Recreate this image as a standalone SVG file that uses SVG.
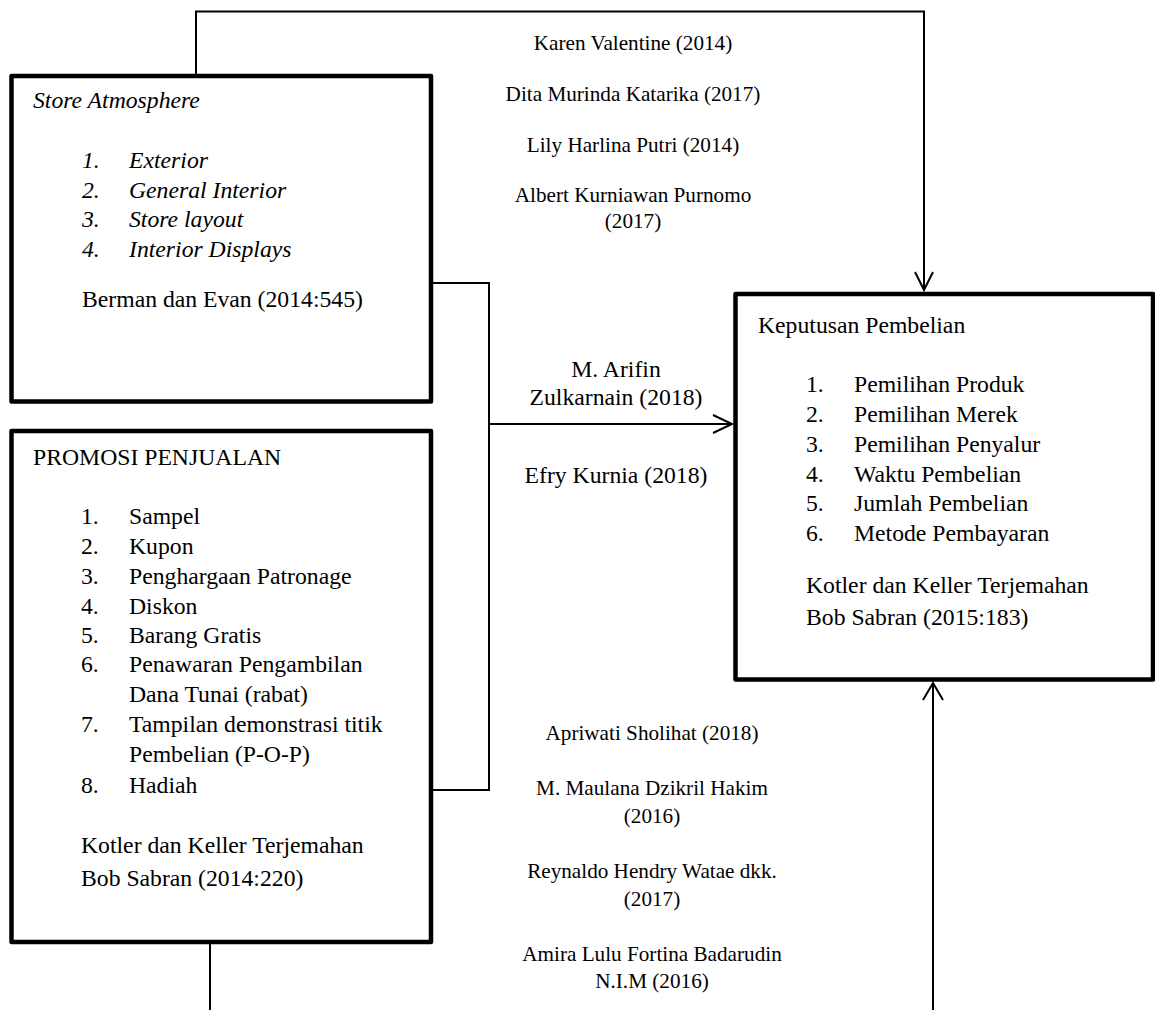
<svg xmlns="http://www.w3.org/2000/svg" width="1155" height="1010" viewBox="0 0 1155 1010">
<style>
text{font-family:"Liberation Serif","Times New Roman",serif;fill:#000}
.m{font-size:23.7px}
.a{font-size:21.2px;text-anchor:middle}
.i{font-style:italic}
.box{fill:#fff;stroke:#000;stroke-width:4.5;stroke-linejoin:round}
.c{fill:none;stroke:#000;stroke-width:2}
</style>
<rect width="1155" height="1010" fill="#fff"/>
<g id="connectors">
<polyline class="c" points="196,74 196,11.5 924,11.5 924,290" stroke-width="2.5"/>
<polyline class="c" points="915,272 924,290 933,272" stroke-width="2.5"/>
<polyline class="c" points="431,283 489,283 489,790 431,790"/>
<line class="c" x1="489" y1="424" x2="732" y2="424"/>
<polyline class="c" points="713,415 732,424 713,433"/>
<line class="c" x1="210" y1="944" x2="210" y2="1010"/>
<line class="c" x1="933" y1="1010" x2="933" y2="683" stroke-width="2.5"/>
<polyline class="c" points="923,700 933,683 943,700" stroke-width="2.5"/>
</g>
<g id="store-atmosphere">
<rect class="box" x="11.5" y="76" width="419.5" height="325.5"/>
<text class="m i" x="33" y="108">Store Atmosphere</text>
<text class="m i" x="82" y="168">1.</text><text class="m i" x="129" y="168">Exterior</text>
<text class="m i" x="82" y="198">2.</text><text class="m i" x="129" y="198">General Interior</text>
<text class="m i" x="82" y="227">3.</text><text class="m i" x="129" y="227">Store layout</text>
<text class="m i" x="82" y="257">4.</text><text class="m i" x="129" y="257">Interior Displays</text>
<text class="m" x="82" y="307">Berman dan Evan (2014:545)</text>
</g>
<g id="promosi-penjualan">
<rect class="box" x="11.5" y="431" width="419.5" height="511"/>
<text class="m" x="33" y="465">PROMOSI PENJUALAN</text>
<text class="m" x="81" y="524">1.</text><text class="m" x="129" y="524">Sampel</text>
<text class="m" x="81" y="554">2.</text><text class="m" x="129" y="554">Kupon</text>
<text class="m" x="81" y="584">3.</text><text class="m" x="129" y="584">Penghargaan Patronage</text>
<text class="m" x="81" y="614">4.</text><text class="m" x="129" y="614">Diskon</text>
<text class="m" x="81" y="643">5.</text><text class="m" x="129" y="643">Barang Gratis</text>
<text class="m" x="81" y="672">6.</text><text class="m" x="129" y="672">Penawaran Pengambilan</text>
<text class="m" x="129" y="702">Dana Tunai (rabat)</text>
<text class="m" x="81" y="732">7.</text><text class="m" x="129" y="732">Tampilan demonstrasi titik</text>
<text class="m" x="129" y="762">Pembelian (P-O-P)</text>
<text class="m" x="81" y="793">8.</text><text class="m" x="129" y="793">Hadiah</text>
<text class="m" x="81" y="853">Kotler dan Keller Terjemahan</text>
<text class="m" x="81" y="886">Bob Sabran (2014:220)</text>
</g>
<g id="keputusan-pembelian">
<rect class="box" x="735.5" y="294" width="417.5" height="385.5"/>
<text class="m" x="758" y="333">Keputusan Pembelian</text>
<text class="m" x="806" y="392">1.</text><text class="m" x="854" y="392">Pemilihan Produk</text>
<text class="m" x="806" y="422">2.</text><text class="m" x="854" y="422">Pemilihan Merek</text>
<text class="m" x="806" y="452">3.</text><text class="m" x="854" y="452">Pemilihan Penyalur</text>
<text class="m" x="806" y="482">4.</text><text class="m" x="854" y="482">Waktu Pembelian</text>
<text class="m" x="806" y="511">5.</text><text class="m" x="854" y="511">Jumlah Pembelian</text>
<text class="m" x="806" y="541">6.</text><text class="m" x="854" y="541">Metode Pembayaran</text>
<text class="m" x="806" y="593">Kotler dan Keller Terjemahan</text>
<text class="m" x="806" y="625">Bob Sabran (2015:183)</text>
</g>
<g id="authors-top">
<text class="a" x="633" y="50">Karen Valentine (2014)</text>
<text class="a" x="633" y="101">Dita Murinda Katarika (2017)</text>
<text class="a" x="633" y="152">Lily Harlina Putri (2014)</text>
<text class="a" x="633" y="202">Albert Kurniawan Purnomo</text>
<text class="a" x="633" y="228">(2017)</text>
</g>
<g id="authors-middle">
<text class="m" x="616" y="377" text-anchor="middle">M. Arifin</text>
<text class="m" x="616" y="405" text-anchor="middle">Zulkarnain (2018)</text>
<text class="m" x="616" y="483" text-anchor="middle">Efry Kurnia (2018)</text>
</g>
<g id="authors-bottom">
<text class="a" x="652" y="740">Apriwati Sholihat (2018)</text>
<text class="a" x="652" y="795">M. Maulana Dzikril Hakim</text>
<text class="a" x="652" y="823">(2016)</text>
<text class="a" x="652" y="878">Reynaldo Hendry Watae dkk.</text>
<text class="a" x="652" y="906">(2017)</text>
<text class="a" x="652" y="961">Amira Lulu Fortina Badarudin</text>
<text class="a" x="652" y="988">N.I.M (2016)</text>
</g>
</svg>
